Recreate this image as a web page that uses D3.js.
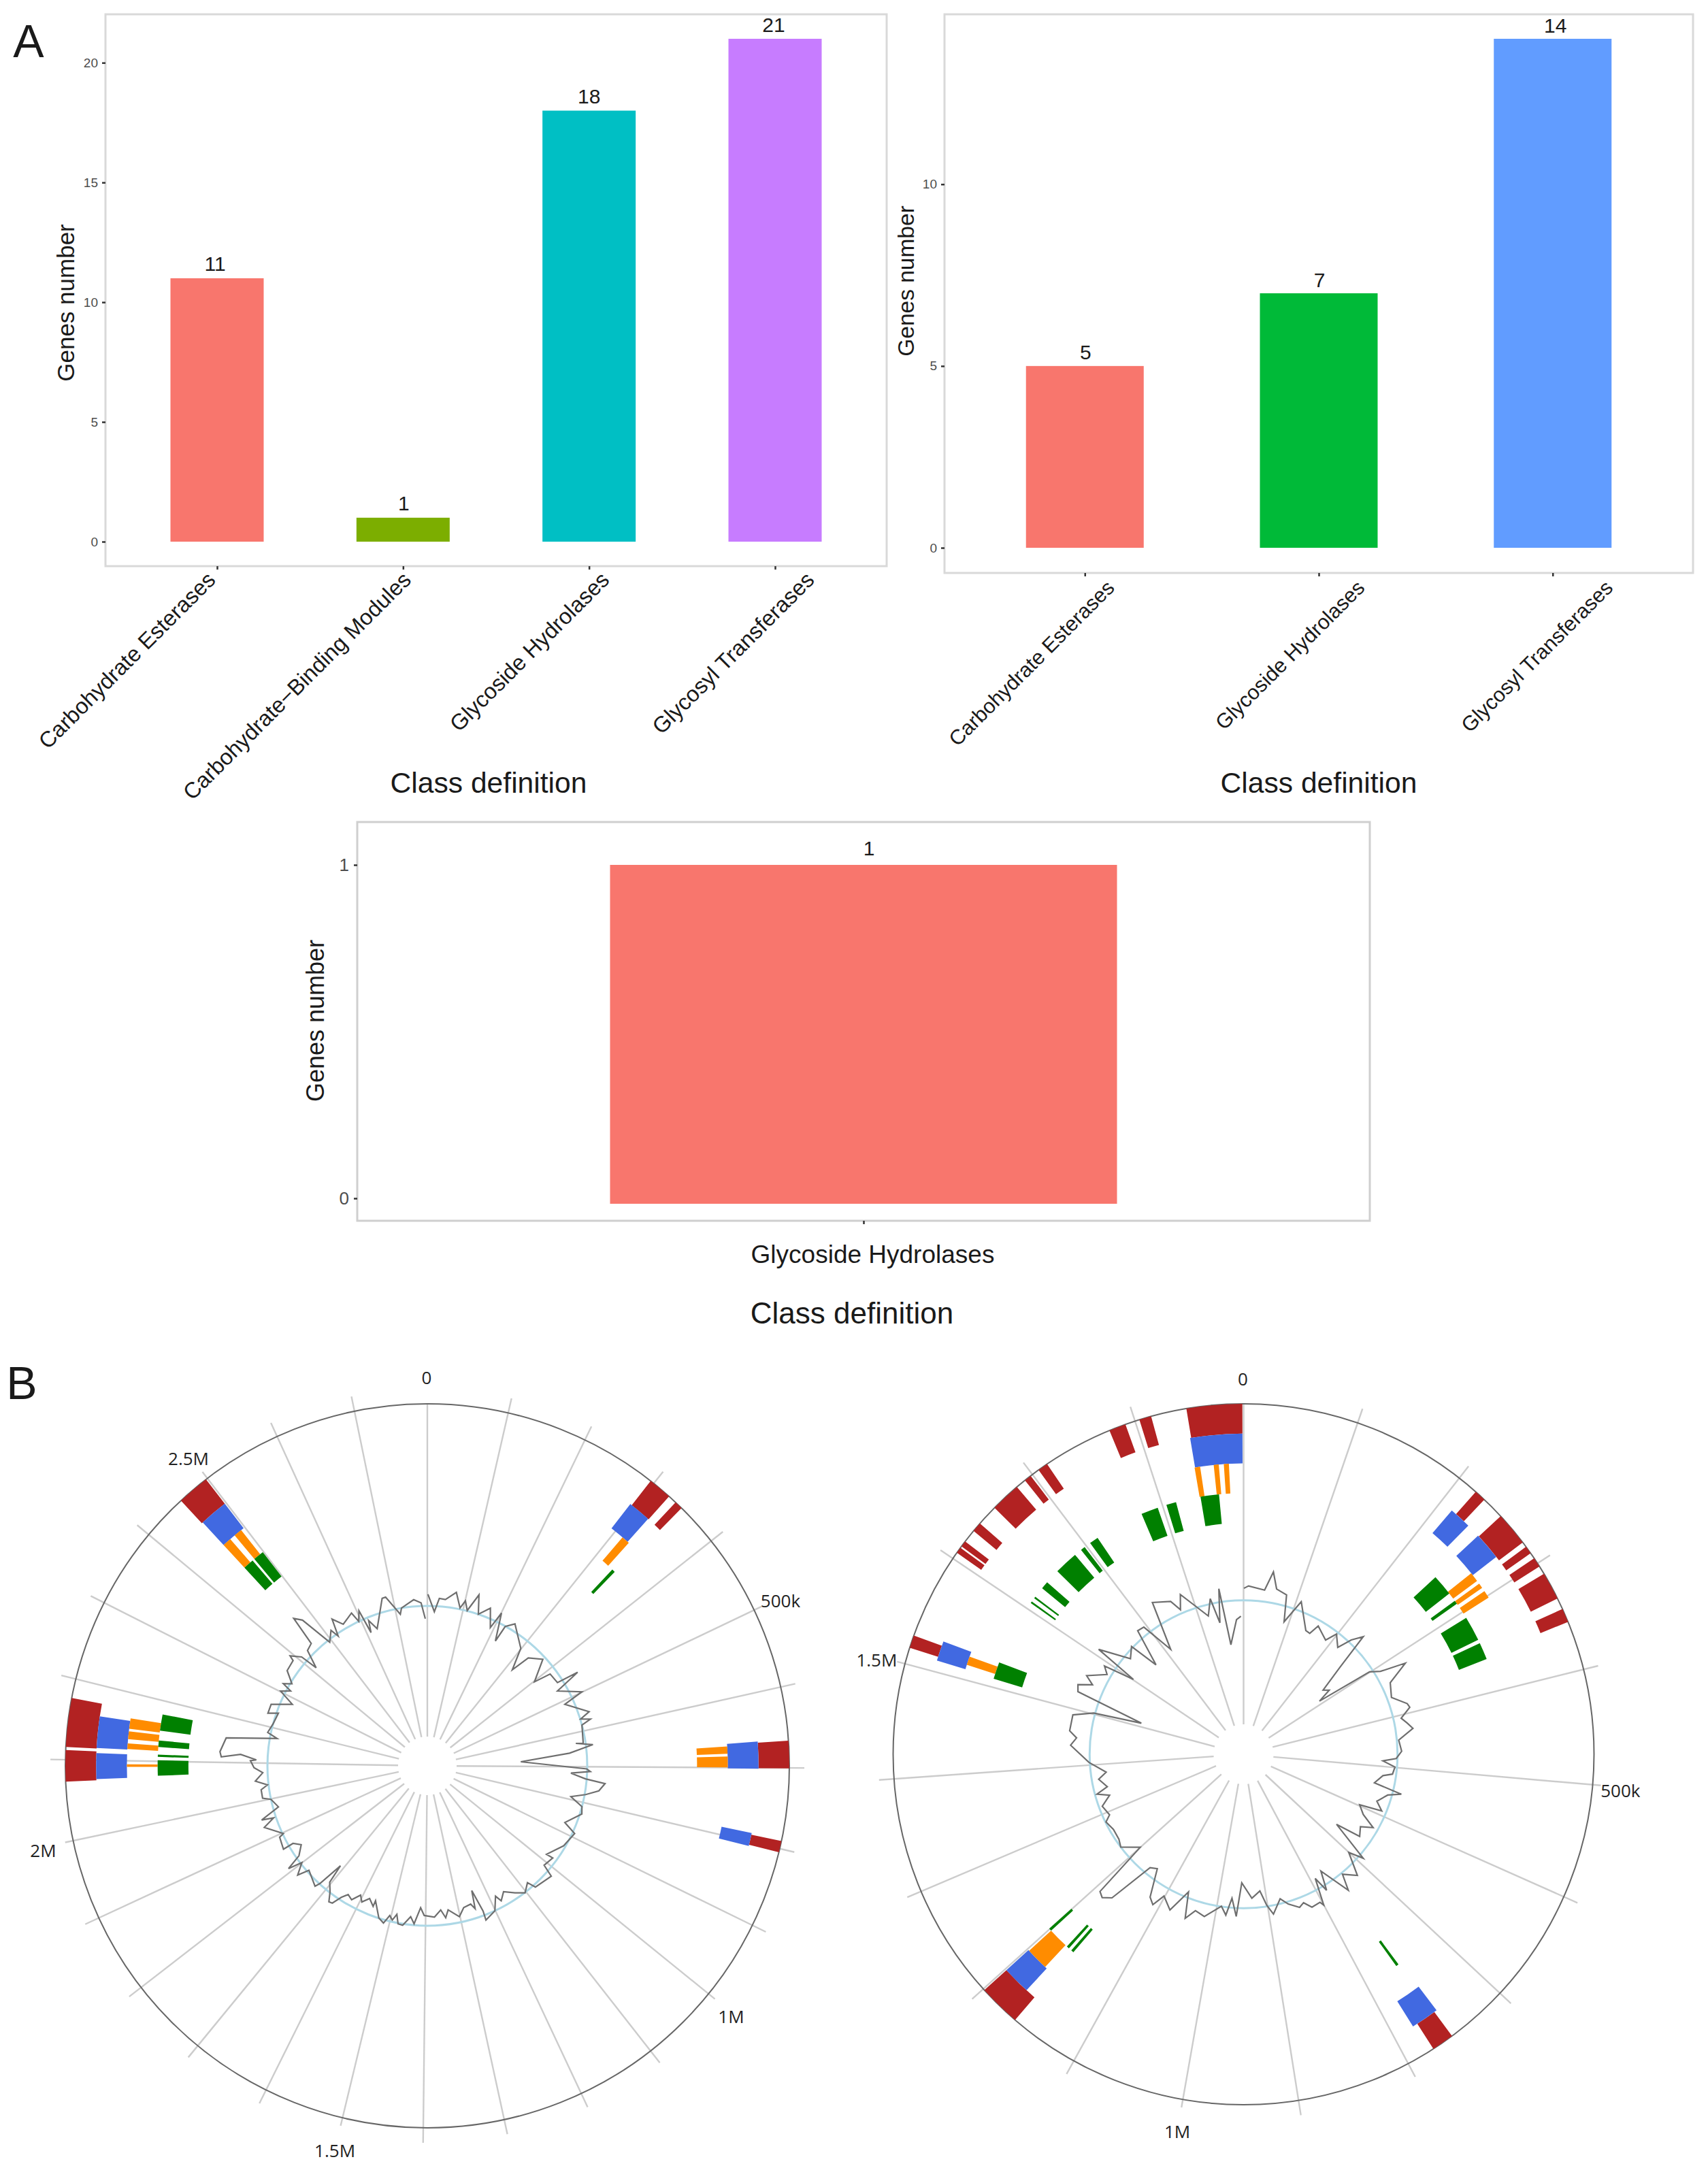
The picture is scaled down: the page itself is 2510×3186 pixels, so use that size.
<!DOCTYPE html>
<html><head><meta charset="utf-8"><title>CAZy classes and genome maps</title>
<script src="https://cdn.jsdelivr.net/npm/d3@7/dist/d3.min.js"></script>
<style>html,body{margin:0;padding:0;background:#fff}svg{display:block}</style></head>
<body><svg id="fig" width="2510" height="3186" viewBox="0 0 2510 3186"></svg>
<script>
// ---------- Panel A data ----------
const classesA1 = ["Carbohydrate Esterases","Carbohydrate\u2212Binding Modules","Glycoside Hydrolases","Glycosyl Transferases"];
const valuesA1 = [11,1,18,21];
const ticksA1 = [0,5,10,15,20];
const classesA2 = ["Carbohydrate Esterases","Glycoside Hydrolases","Glycosyl Transferases"];
const valuesA2 = [5,7,14];
const ticksA2 = [0,5,10];
const classesA3 = ["Glycoside Hydrolases"];
const valuesA3 = [1];
const ticksA3 = [0,1];

// ---------- Panel B data: feature spans along the map (degrees clockwise from origin) ----------
const leftLengthBp = 2790000;
const leftTickBp = d3.range(0,2800000,100000);
const leftLabels = [[0,"0"],[500000,"500k"],[1000000,"1M"],[1500000,"1.5M"],[2000000,"2M"],[2500000,"2.5M"]];
const leftRed = [[86,90.4],[102,103.8],[38.1,41.9],[43.3,44.6],[317.1,322.3],[273,280.8],[267.5,272.5]];
const leftBlue = [[85.8,90.5],[101.7,104],[37.8,41.8],[317.3,322.3],[273.1,278.6],[267.7,272.2]];
const leftOrange = [[86.3,87.7],[88.2,90.3],[40.5,42.1],[320.1,321.7],[317.3,319],[277.1,279.1],[275.1,276.6],[273.2,274.3],[269.8,270.3]];
const leftGreen = [[43.3,44],[320.1,322.4],[317.3,319.6],[277.5,281],[274,275.4],[271.9,272.4],[267.9,271.2]];

const rightLengthBp = 1895000;
const rightTickBp = d3.range(0,1900000,100000);
const rightLabels = [[0,"0"],[500000,"500k"],[1000000,"1M"],[1500000,"1.5M"]];
const rightRed = [[350.6,359.8],[342.7,344.7],[337.5,340.3],[324.2,325.9],[321.4,322.6],[314.7,319.7],[309.6,311.2],[306.4,307.4],[305.1,306.1],[287.7,289.8],[41.5,43.4],[47.2,52.8],[53.7,55],[56,57.6],[59,63.6],[65.5,67.8],[143.5,147.2],[220.7,227.7]];
const rightBlue = [[350.4,359.8],[287,290.6],[40.5,44.5],[47,52],[143,148.1],[222.6,227.7]];
const rightOrange = [[350.3,351.4],[354.1,355.1],[356.1,357.1],[287.9,289.6],[51.5,53.4],[54.1,55.1],[55.9,57.4],[223,227.5]];
const rightGreen = [[350.5,354.6],[337,340.8],[342.8,345],[324,326],[321.5,322.5],[314.5,319.8],[309.5,311.2],[306.7,307.1],[305.4,305.8],[286.8,290.6],[47.3,52],[54,54.8],[58.5,64],[64.8,68.6],[143.6,144.2],[227.5,228.1],[222,222.6],[220.7,221.3]];

// ---------- Panel B data: composition track traced clockwise (map degrees / ratio to baseline) ----------
const trackLeftDeg = [0.2,2.6,4.1,6.2,9.5,11.7,13,14.4,16.8,18.6,21.8,24.5,25.9,28.6,29.2,31.7,38.5,41.5,43.1,47.3,51.9,53.2,57.4,58.1,60.1,64.4,65.9,71.5,73,74,75.2,81.8,81.4,82.7,84.9,87.5,91.1,92,92.9,94.7,95.7,98.3,100.3,102.1,104.8,107.3,112.4,114.7,120.4,126.6,126.3,130.4,131.7,
138.3,139.4,142.4,145.4,148.8,151.3,152.4,155,159.2,159,160.4,161.5,162.6,165.6,168,171.8,173.1,174.7,177.3,181.2,182.7,184.8,186.3,188.8,190.5,191.6,192.8,194.1,195.6,197.7,201,201.1,203.5,205.7,207.3,209.5,211.6,213.2,214.7,215.9,217.7,
220,221,222.4,223,228.6,229.9,232.4,233.5,235,238,240,239.9,244.2,244.8,249.3,251.3,251.9,254.6,257.9,258.9,261.8,263.2,264.9,267.6,269.4,271.7,272,273.5,272.5,273.9,277.9,279.8,280.3,281.8,285.2,289.5,288.3,291.5,294.5,297,298.7,299.7,301.2,304.2,308.1,308.7,310.9,311.4,313.9,316.5,317.8,319.4,321.7,324.6,325.5,327,329.3,333.6,334.6,336.2,337.1,338,339.9,344.9,346.1,349.9,350.7,355.3,357.8,359.2];
const trackLeftVal = [1.073,0.965,1.05,1.046,1.1,1.008,1.059,1.003,1.117,1,1.062,0.95,1.062,0.889,0.998,1.043,0.939,0.802,0.924,0.983,0.851,0.959,0.966,1.107,0.939,1.072,0.942,1.067,1.003,1.061,1,0.985,0.939,1.044,0.893,0.585,0.997,1.02,0.899,0.992,1.117,1.084,1.006,0.918,1,1.012,0.93,1.014,0.988,0.928,0.973,0.959,1.038,
1.016,0.962,1.002,0.965,0.92,0.962,0.92,1,1.032,0.973,0.828,0.942,0.906,0.915,0.964,0.91,0.957,0.905,0.947,0.936,0.888,0.992,0.949,1.009,1.005,0.948,0.989,0.965,1.021,0.998,0.904,0.942,0.905,0.945,0.91,0.962,0.945,0.983,1.044,1.05,0.995,
0.95,0.828,0.997,1.03,0.987,1.06,0.99,1.08,0.98,0.93,0.97,1.04,1.026,0.995,1.09,1.015,1.09,0.966,1,1.05,1.05,1.007,1.08,1.03,1.084,1.107,1.07,1.17,1.29,1.3,1.27,1.007,0.955,1.02,1,0.988,1.05,1.05,0.928,1.03,0.975,1.037,0.99,1.06,1.067,1.1,1.04,0.927,1.04,1.055,1.244,1.2,0.985,1.04,0.985,1.094,1.03,1.067,1,1.06,0.905,0.98,0.913,1.085,1.087,0.963,1,1.043,1.02,0.92];
const trackRightDeg = [0.1,1.7,7.3,9.3,11.3,15.1,17,20.7,26.7,28.7,30.2,35.7,37.7,41.4,43.3,45.5,47.9,51.1,53.2,55,56.8,58.8,60.6,64,69,72.8,74.2,77.1,79.2,81.3,84.8,88.9,91.6,92.7,94.8,97.6,98.7,102.3,104.2,105.8,109.4,112.3,113.5,116.7,119.5,121.8,125.3,127,131,133,136.8,140.5,
142.4,146.5,148.6,150,152,152.7,155.9,158,159.9,163.4,165.8,169.4,171.3,173.2,176.7,180.8,182.6,184.6,186.3,188.3,193.6,197.1,199.6,201.8,205.3,209.3,211.1,213.2,217,219.5,
222.5,224.6,226.3,228,232.9,235.7,240,243.8,245.7,249.8,253,254.8,256.6,260.2,262.6,267,273,275.6,277.7,283,285.4,286.9,290.7,292.8,294.7,296.6,300.3,302.4,304.2,305.9,310.2,313.9,315.6,319.4,321.9,325.2,329,334.5,336.4,338.4,345.7,347.9,349.8,351.5,353.4,357,358.9];
const trackRightVal = [1.078,1.094,1.075,1.2,1.095,1.072,0.9,1.06,0.9,0.895,0.964,0.913,0.987,0.925,1.02,1.09,0.846,0.664,0.695,0.602,0.978,1.04,1.206,1.06,1.029,1.113,1.122,1.05,1.082,1.113,1.012,1.027,0.992,0.906,0.987,0.976,0.916,0.87,1.057,0.973,0.918,0.97,0.822,0.87,0.967,0.893,0.924,0.756,1.03,0.934,1.08,1.01,
1.115,0.91,1.035,0.931,1.109,1.082,1.088,1.04,1.059,1.015,0.968,1.056,0.991,0.894,0.937,0.835,1.054,0.938,1.051,0.997,1.084,1.063,1.131,0.963,1.119,1.056,1.141,1.109,0.931,0.955,
1.265,1.308,1.29,0.903,1,0.98,0.976,0.996,0.955,0.978,0.91,0.987,0.91,0.955,0.9,1.006,1.125,1.09,1.14,1.138,1.01,0.694,1.15,1.167,1.08,1.14,1.027,1.07,0.865,1.162,0.962,1.01,0.813,1.057,1.05,0.83,1.15,1.1,1.024,1.116,0.927,1.033,0.868,1.087,0.716,0.876,0.897];

// ---------- Styling ----------
const SANS = "'Liberation Sans',Arial,sans-serif";
const PAL3 = ["#F8766D","#00BA38","#619CFF"];
const PAL4 = ["#F8766D","#7CAE00","#00BFC4","#C77CFF"];
const FEATURE = {red:"#B22222",blue:"#4169E1",orange:"#FF8C00",green:"#008000"};
const svg = d3.select("#fig");
svg.append("rect").attr("width",2510).attr("height",3186).attr("fill","#fff");

function text(g,s,x,y,size,o={}){
  return g.append("text").attr("x",x).attr("y",y).attr("font-family",o.font||SANS).attr("font-size",size)
    .attr("fill",o.fill||"#1a1a1a").attr("text-anchor",o.anchor||"middle").attr("dominant-baseline",o.base||"central")
    .attr("transform",o.rotate?`rotate(${o.rotate} ${x} ${y})`:null).text(s);
}

function barPanel(c){
  const g = svg.append("g");
  const y = d3.scaleLinear().domain(c.domain).range(c.yRange);
  const x = d3.scalePoint().domain(c.cats).range([c.box[0],c.box[2]]).padding(c.pad);
  g.append("rect").attr("x",c.box[0]).attr("y",c.box[1]).attr("width",c.box[2]-c.box[0]).attr("height",c.box[3]-c.box[1])
    .attr("fill","#fff").attr("stroke",c.stroke||"#d9d9d9").attr("stroke-width",3);
  g.selectAll("rect.bar").data(c.cats).join("rect").attr("class","bar")
    .attr("x",d=>x(d)-c.barW/2).attr("width",c.barW)
    .attr("y",(d,i)=>y(c.vals[i])).attr("height",(d,i)=>y(0)-y(c.vals[i])+(c.over||0))
    .attr("fill",(d,i)=>c.pal[i]);
  g.selectAll("text.val").data(c.cats).join("text").attr("class","val")
    .attr("x",(d,i)=>x(d)+(c.valNudge?c.valNudge[i]:0)).attr("y",(d,i)=>y(c.vals[i])-c.valGap)
    .attr("text-anchor","middle").attr("dominant-baseline","central").attr("font-family",SANS).attr("font-size",c.valSize).attr("fill","#1a1a1a")
    .text((d,i)=>c.vals[i]);
  const ay = g.append("g").attr("transform",`translate(${c.box[0]},0)`)
    .call(d3.axisLeft(y).tickValues(c.ticks).tickSize(c.tickLen).tickPadding(c.tickPad).tickFormat(d3.format("d")));
  ay.select(".domain").remove();
  ay.selectAll("line").attr("stroke","#333").attr("stroke-width",2.5);
  ay.selectAll("text").attr("font-family",SANS).attr("font-size",c.tickSize).attr("fill","#4d4d4d");
  const ax = g.append("g").attr("transform",`translate(0,${c.box[3]})`)
    .call(d3.axisBottom(x).tickSize(5).tickFormat(d=>d));
  ax.select(".domain").remove();
  ax.selectAll("line").attr("stroke","#333").attr("stroke-width",2.5);
  ax.selectAll("text").attr("font-family",SANS).attr("font-size",c.catSize).attr("fill","#1a1a1a");
  if(c.rotate){
    ax.selectAll("text").attr("text-anchor","end").attr("dy",null).attr("y",null)
      .attr("dominant-baseline","central")
      .attr("transform",(d,i)=>`translate(${c.nudge[i]},${c.catY}) rotate(-45)`);
  } else {
    ax.selectAll("text").attr("dy",null).attr("y",null).attr("dominant-baseline","central")
      .attr("text-anchor","middle").attr("transform",`translate(${c.catX},${c.catY})`);
  }
  text(g,"Genes number",c.yTitle[0],c.yTitle[1],c.yTitle[2],{rotate:-90});
  text(g,"Class definition",c.xTitle[0],c.xTitle[1],c.xTitle[2]);
}

barPanel({box:[155,21,1303,832],domain:[0,21],yRange:[796,57],cats:classesA1,vals:valuesA1,ticks:ticksA1,pad:0.6,barW:137,pal:PAL4,
  valGap:21,valSize:30,valNudge:[-3,1,0,-2],tickLen:5,tickPad:6,tickSize:19,catSize:32.6,rotate:true,nudge:[-9,5,23,51],catY:14,
  yTitle:[96,445,35],xTitle:[718,1150,42.6]});
barPanel({box:[1388,21,2488,842],domain:[0,14],yRange:[805,57],cats:classesA2,vals:valuesA2,ticks:ticksA2,pad:0.6,barW:173,pal:PAL3,
  valGap:20,valSize:30,valNudge:[1,1,4],tickLen:5,tickPad:6,tickSize:19,catSize:30.5,rotate:true,nudge:[37,61,82],catY:16,
  yTitle:[1331,413,33.5],xTitle:[1938,1150,42.6]});
barPanel({box:[525,1208,2013,1794],domain:[0,1],yRange:[1761,1271],cats:classesA3,vals:valuesA3,ticks:ticksA3,pad:0.5,barW:745,pal:PAL4,over:8,stroke:"#cfcfcf",
  valGap:25,valSize:30,valNudge:[8],tickLen:5,tickPad:7,tickSize:26,catSize:37,rotate:false,catX:13,catY:49,
  yTitle:[463,1500,36],xTitle:[1252,1929,44]});

// ---------- Circular maps ----------
function genomeMap(c){
  const g = svg.append("g").attr("transform",`translate(${c.cx},${c.cy})`);
  const toRad = d3.scaleLinear().domain([0,360]).range([0,2*Math.PI]);
  const bpToRad = d3.scaleLinear().domain([0,c.length]).range([0,2*Math.PI]);
  const radial = d3.scaleLinear().domain([0,1]).range([0,c.r]);
  const labelled = new Set(c.labels.map(d=>d[0]));
  g.selectAll("line.spoke").data(c.ticks).join("line").attr("class","spoke")
    .attr("x1",d=>c.hole*Math.sin(bpToRad(d))).attr("y1",d=>-c.hole*Math.cos(bpToRad(d)))
    .attr("x2",d=>(c.r+(d===0?0:labelled.has(d)?12:22))*Math.sin(bpToRad(d)))
    .attr("y2",d=>-(c.r+(d===0?0:labelled.has(d)?12:22))*Math.cos(bpToRad(d)))
    .attr("stroke","#cccccc").attr("stroke-width",2.4);
  g.append("circle").attr("r",c.r).attr("fill","none").attr("stroke","#666").attr("stroke-width",2);
  g.append("circle").attr("r",radial(c.base)).attr("fill","none").attr("stroke","#ADD8E6").attr("stroke-width",3);
  const rows = c.track[0].map((d,i)=>[d,c.track[1][i]]);
  g.append("path").attr("d",d3.lineRadial().angle(d=>toRad(d[0])).radius(d=>radial(d[1]*c.base))(rows))
    .attr("fill","none").attr("stroke","#6e6e6e").attr("stroke-width",2.2).attr("stroke-linejoin","miter");
  [["red",1,0.915],["blue",0.915,0.83],["orange",0.83,0.745],["green",0.745,0.66]].forEach(([k,o,i])=>{
    const arc = d3.arc().innerRadius(radial(i)).outerRadius(radial(o)).startAngle(d=>toRad(d[0])).endAngle(d=>toRad(d[1]));
    g.selectAll("path."+k).data(c.features[k]).join("path").attr("class",k).attr("d",arc).attr("fill",FEATURE[k]);
  });
  g.selectAll("text.lab").data(c.labels).join("text").attr("class","lab")
    .attr("x",d=>(c.r+c.labelGap)*Math.sin(bpToRad(d[0]))-1).attr("y",d=>-(c.r+c.labelGap)*Math.cos(bpToRad(d[0]))+5)
    .attr("text-anchor","middle").attr("dominant-baseline","central").attr("font-family","'Open Sans',sans-serif").attr("font-size",26).attr("fill","#222")
    .text(d=>d[1]);
}
genomeMap({cx:628,cy:2595,r:532,hole:43,base:0.4417,length:leftLengthBp,ticks:leftTickBp,labels:leftLabels,labelGap:44,
  track:[trackLeftDeg,trackLeftVal],features:{red:leftRed,blue:leftBlue,orange:leftOrange,green:leftGreen}});
genomeMap({cx:1827.5,cy:2578,r:515,hole:44,base:0.4393,length:rightLengthBp,ticks:rightTickBp,labels:rightLabels,labelGap:42,
  track:[trackRightDeg,trackRightVal],features:{red:rightRed,blue:rightBlue,orange:rightOrange,green:rightGreen}});

text(svg,"A",42,84,68,{base:"auto"});
text(svg,"B",32,2056,68,{base:"auto"});
</script></body></html>
